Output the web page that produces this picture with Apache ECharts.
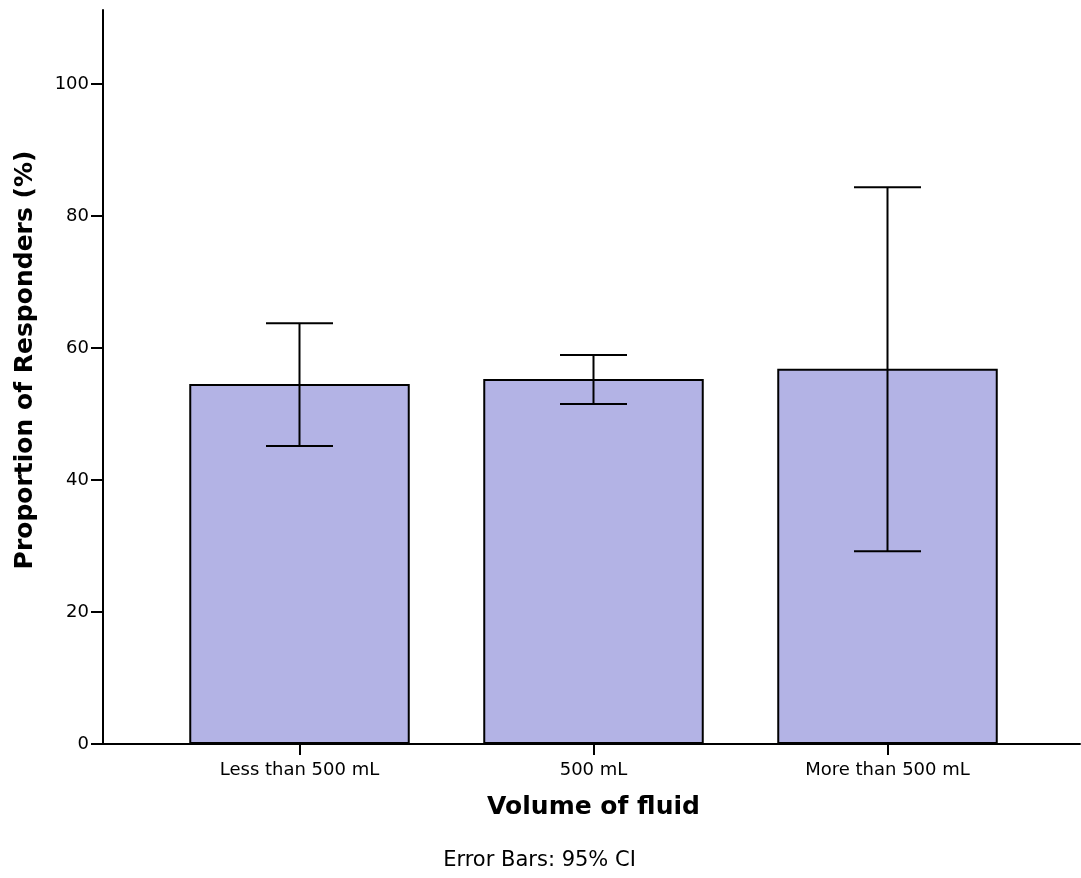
<!DOCTYPE html>
<html>
<head>
<meta charset="utf-8">
<script src="https://cdn.jsdelivr.net/npm/echarts@6/dist/echarts.min.js"></script>
<style>html,body{margin:0;padding:0;background:#fff;}#chart{width:1081px;height:878px;}</style>
</head>
<body>
<div id="chart"></div>
<script>
const categories = ['Less than 500 mL', '500 mL', 'More than 500 mL'];
const means = [54.55, 55.3, 56.85];
const ciLow = [45.15, 51.5, 29.2];
const ciHigh = [63.75, 58.95, 84.35];
const yTicks = [0, 20, 40, 60, 80, 100];
const yMax = 111.2;

const FONT = 'DejaVu Sans';
const chart = echarts.init(document.getElementById('chart'), null, {renderer: 'canvas'});

const errData = categories.map((c, i) => [i, ciLow[i], ciHigh[i]]);

chart.setOption({
  animation: false,
  backgroundColor: '#ffffff',
  grid: [
    {left: 103, right: 1, top: 10, bottom: 134, containLabel: false},
    {left: 152.5, width: 882, top: 10, bottom: 134, containLabel: false}
  ],
  xAxis: [
    {
      gridIndex: 0, type: 'value', min: 0, max: 1,
      axisLine: {show: true, lineStyle: {color: '#000', width: 2}},
      axisTick: {show: false}, axisLabel: {show: false}, splitLine: {show: false}
    },
    {
      gridIndex: 1, type: 'category', data: categories,
      axisLine: {show: false},
      axisTick: {show: true, alignWithLabel: true, length: 11, lineStyle: {color: '#000', width: 2}},
      axisLabel: {show: true, color: '#000', fontFamily: FONT, fontSize: 18, margin: 17},
      name: 'Volume of fluid', nameLocation: 'middle', nameGap: 51,
      nameTextStyle: {color: '#000', fontFamily: FONT, fontSize: 25, fontWeight: 'bold'},
      splitLine: {show: false}
    }
  ],
  yAxis: [
    {
      gridIndex: 0, type: 'value', min: 0, max: yMax,
      axisLine: {show: true, lineStyle: {color: '#000', width: 2}},
      axisTick: {show: true, length: 12, customValues: yTicks, lineStyle: {color: '#000', width: 2}},
      axisLabel: {show: true, customValues: yTicks, color: '#000', fontFamily: FONT, fontSize: 18, margin: 14},
      splitLine: {show: false}
    },
    {
      gridIndex: 1, type: 'value', min: 0, max: yMax,
      axisLine: {show: false}, axisTick: {show: false}, axisLabel: {show: false}, splitLine: {show: false}
    }
  ],
  series: [
    {
      type: 'bar', xAxisIndex: 1, yAxisIndex: 1,
      data: means, barWidth: '75%',
      itemStyle: {color: '#b3b3e5', borderColor: '#000', borderWidth: 2}
    },
    {
      type: 'custom', xAxisIndex: 1, yAxisIndex: 1,
      data: errData,
      encode: {x: 0, y: [1, 2]},
      z: 5,
      renderItem: function (params, api) {
        const x = api.value(0);
        const lo = api.coord([x, api.value(1)]);
        const hi = api.coord([x, api.value(2)]);
        const hw = 33.5;
        const style = {stroke: '#000', lineWidth: 2, fill: null};
        return {
          type: 'group',
          children: [
            {type: 'line', shape: {x1: lo[0], y1: lo[1], x2: hi[0], y2: hi[1]}, style: style},
            {type: 'line', shape: {x1: hi[0] - hw, y1: hi[1], x2: hi[0] + hw, y2: hi[1]}, style: style},
            {type: 'line', shape: {x1: lo[0] - hw, y1: lo[1], x2: lo[0] + hw, y2: lo[1]}, style: style}
          ]
        };
      }
    }
  ],
  graphic: [
    {
      type: 'text', x: 25, y: 360, rotation: Math.PI / 2,
      style: {text: 'Proportion of Responders (%)', fill: '#000', font: 'bold 25px "DejaVu Sans"', align: 'center', verticalAlign: 'middle'}
    },
    {
      type: 'text', x: 539.5, y: 861,
      style: {text: 'Error Bars: 95% CI', fill: '#000', font: '21px "DejaVu Sans"', align: 'center', verticalAlign: 'middle'}
    }
  ]
});
</script>
</body>
</html>
